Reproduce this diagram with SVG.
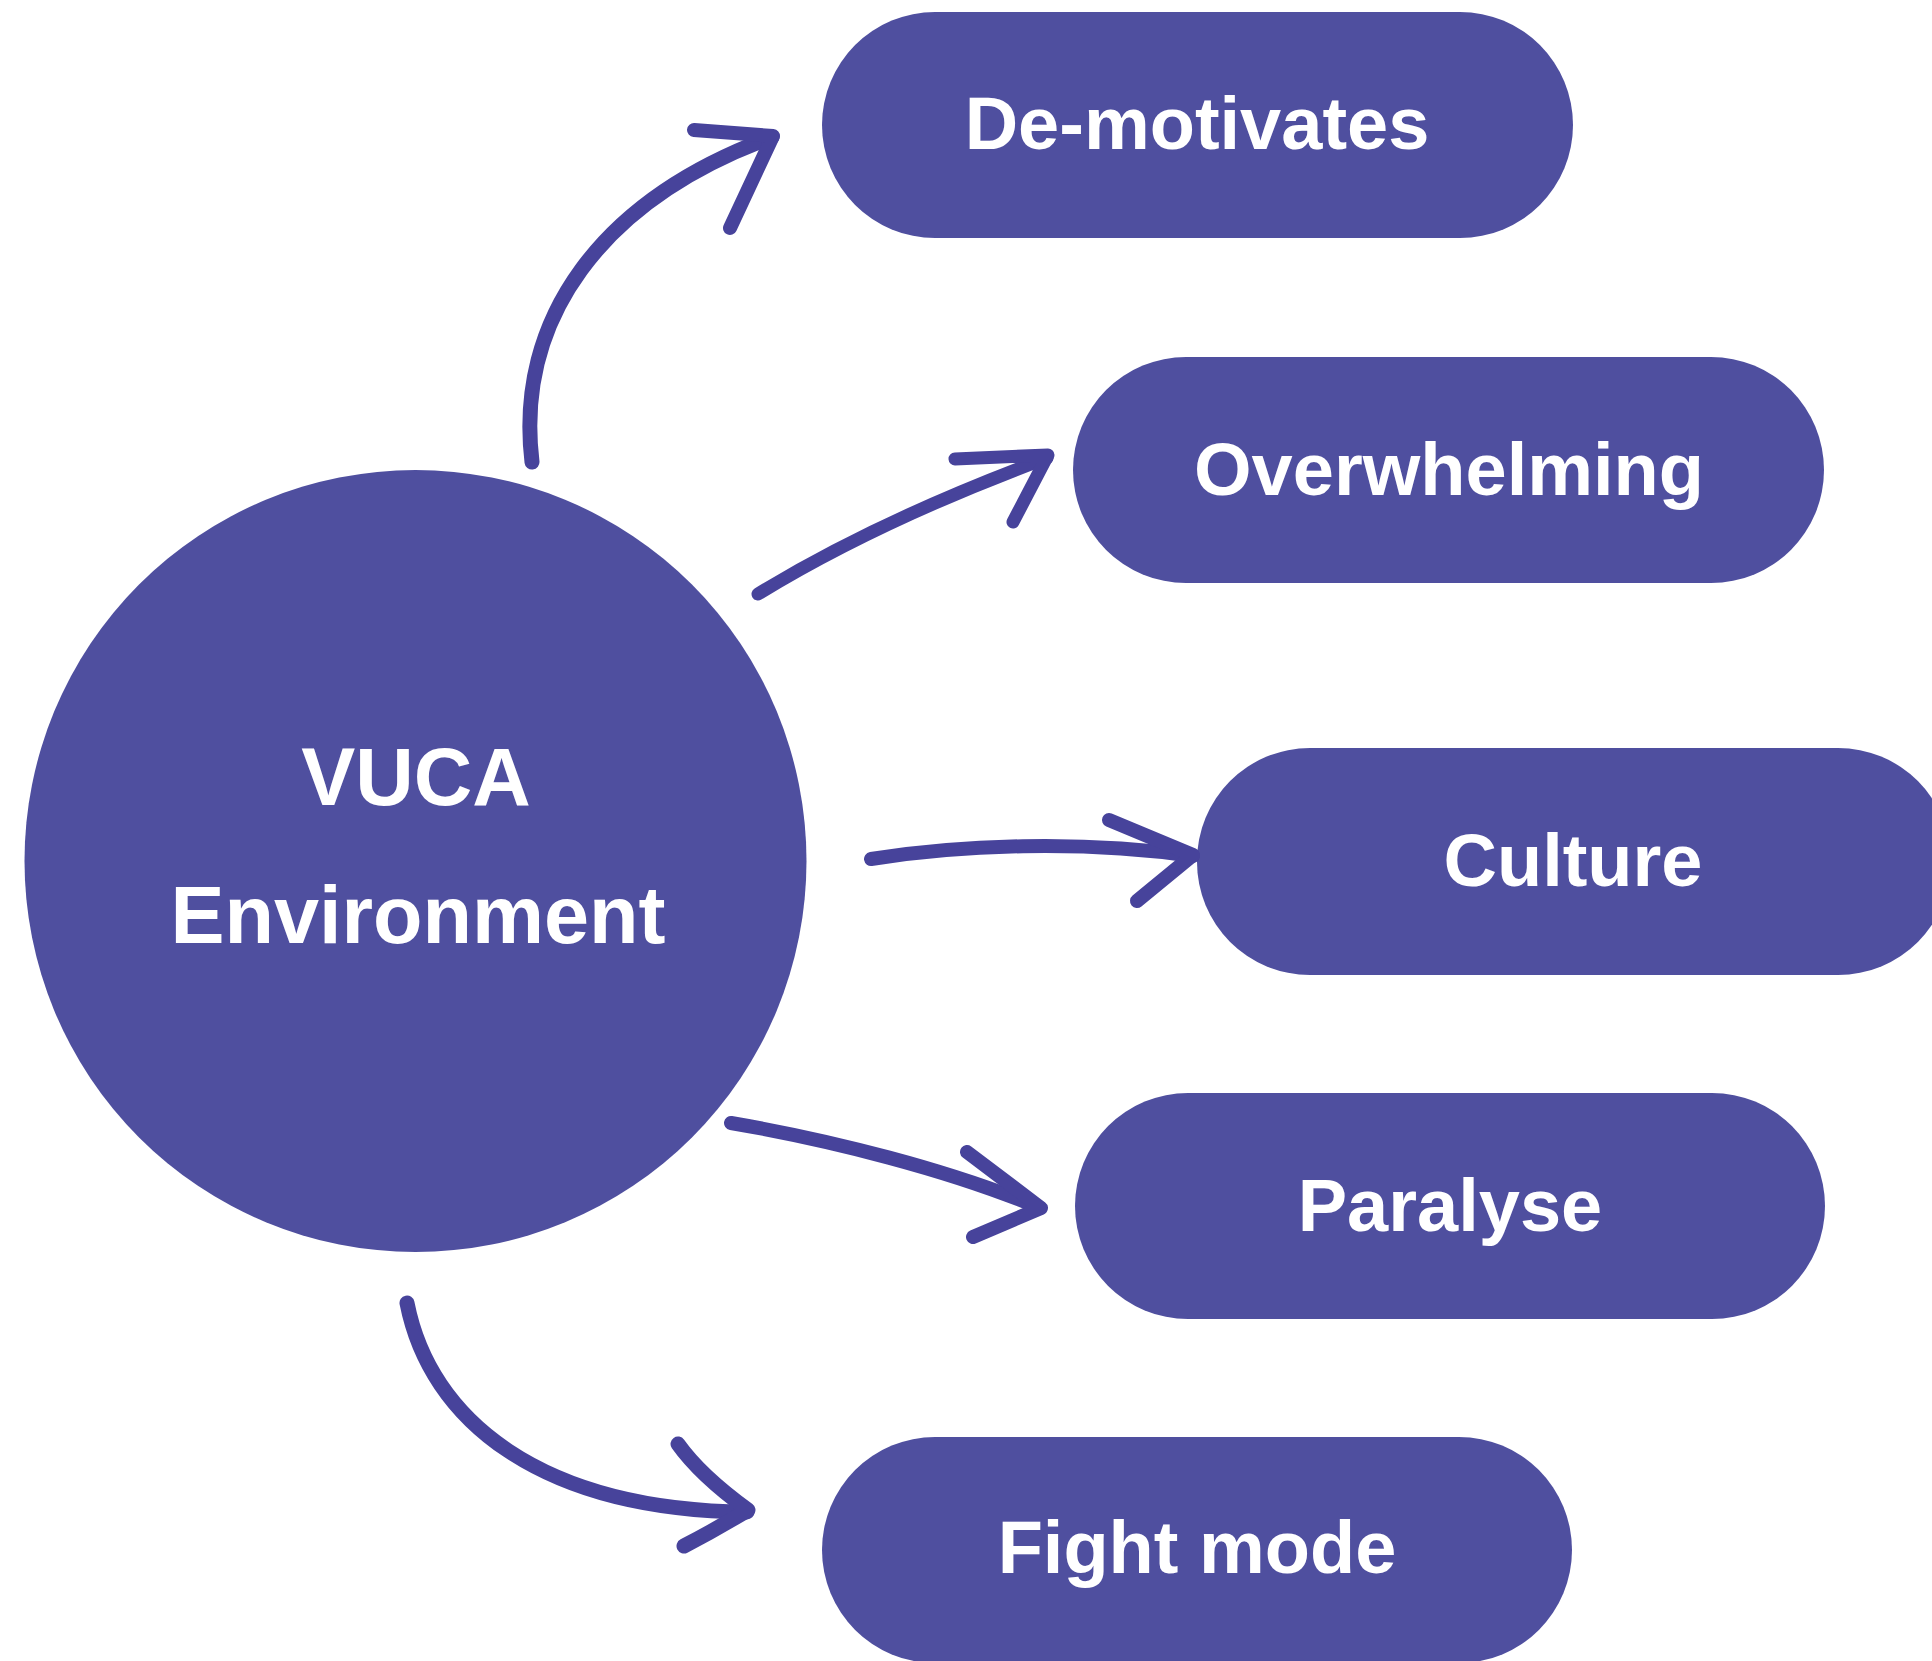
<svg xmlns="http://www.w3.org/2000/svg" width="1932" height="1661" viewBox="0 0 1932 1661">
<style>
.node{fill:#4f4f9f}
.lbl{fill:#ffffff;font-family:"Liberation Sans",Arial,sans-serif;font-weight:bold;text-anchor:middle}
.pill{font-size:74px}
.big{font-size:81px}
.arr{fill:none;stroke:#47439b;stroke-linecap:round;stroke-linejoin:round}
</style>
<rect width="1932" height="1661" fill="#ffffff"/>
<g id="vuca">
<circle class="node" cx="415.5" cy="861" r="391"/>
<text class="lbl big" x="416" y="805">VUCA</text>
<text class="lbl big" x="418" y="943">Environment</text>
</g>
<g id="demotivates">
<rect class="node" x="822" y="12" width="751" height="226" rx="113" ry="113"/>
<text class="lbl pill" x="1197" y="149">De-motivates</text>
</g>
<g id="overwhelming">
<rect class="node" x="1073" y="357" width="751" height="226" rx="113" ry="113"/>
<text class="lbl pill" x="1449" y="495">Overwhelming</text>
</g>
<g id="culture">
<rect class="node" x="1197" y="748" width="754" height="227" rx="113" ry="113"/>
<text class="lbl pill" x="1573" y="886">Culture</text>
</g>
<g id="paralyse">
<rect class="node" x="1075" y="1093" width="750" height="226" rx="113" ry="113"/>
<text class="lbl pill" x="1450" y="1231">Paralyse</text>
</g>
<g id="fightmode">
<rect class="node" x="822" y="1437" width="750" height="226" rx="113" ry="113"/>
<text class="lbl pill" x="1197" y="1573">Fight mode</text>
</g>
<g id="connectors">
<path class="arr" stroke-width="15" d="M532,462 C515,320 600,200 772,137"/>
<path class="arr" stroke-width="14" d="M694,130 L773,136 L730,228"/>
<path class="arr" stroke-width="13" d="M758,594 C830,550 920,505 1047,458"/>
<path class="arr" stroke-width="13" d="M955,459 L1048,455 L1013,522"/>
<path class="arr" stroke-width="14" d="M871,859 C960,845 1080,840 1193,856"/>
<path class="arr" stroke-width="14" d="M1109,820 L1193,855 L1137,901"/>
<path class="arr" stroke-width="14" d="M731,1123 C830,1140 950,1170 1040,1208"/>
<path class="arr" stroke-width="14" d="M967,1152 L1041,1208 L973,1237"/>
<path class="arr" stroke-width="15" d="M407,1303 C430,1420 540,1510 747,1512"/>
<path class="arr" stroke-width="15" d="M678,1444 Q700,1475 748,1510 Q715,1530 684,1546"/>
</g>
</svg>
